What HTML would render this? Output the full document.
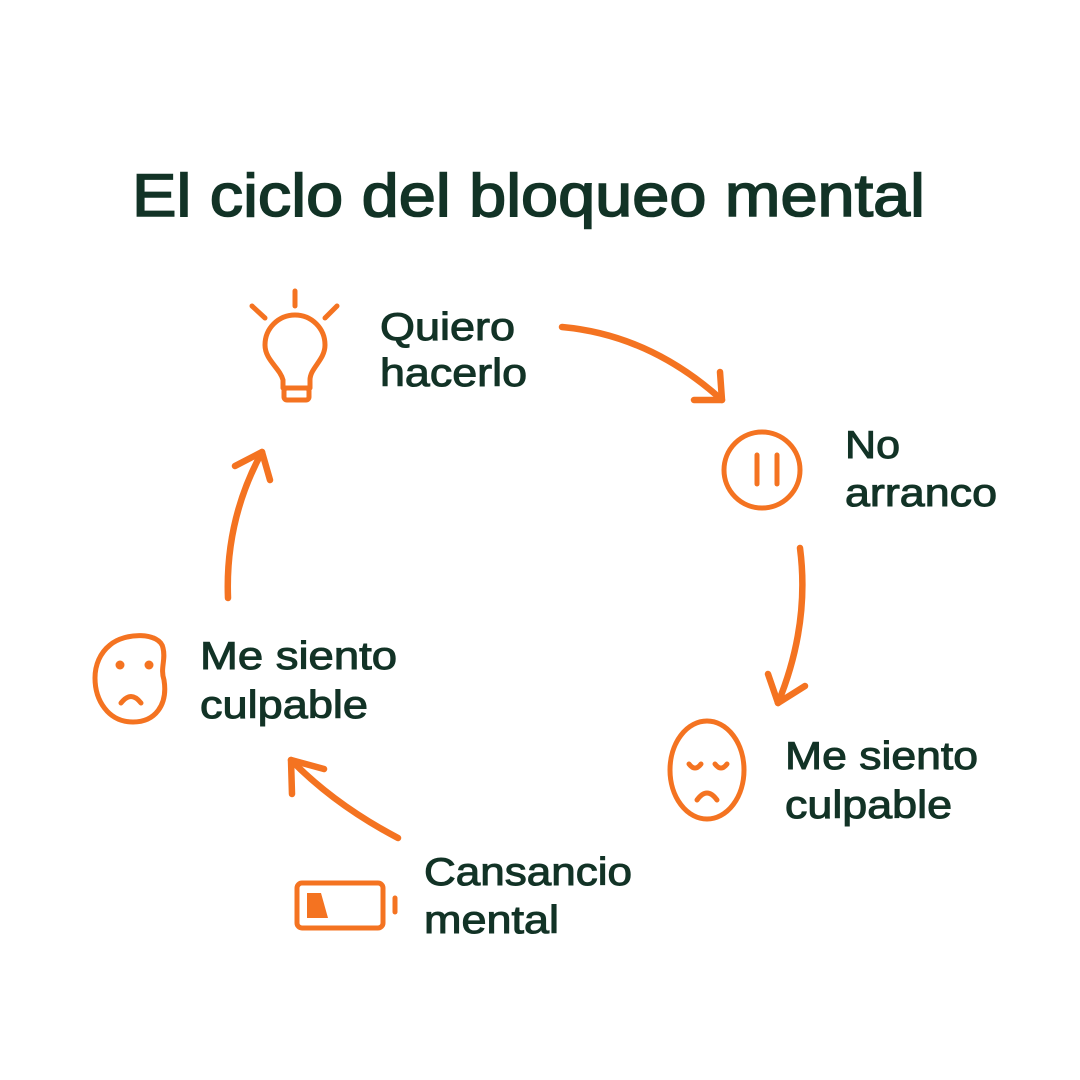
<!DOCTYPE html>
<html><head><meta charset="utf-8"><style>
html,body{margin:0;padding:0;background:#fff;width:1080px;height:1080px;overflow:hidden}
svg{display:block}
text{font-family:"Liberation Sans",sans-serif;fill:#123326;stroke:#123326}
</style></head><body>
<svg width="1080" height="1080" viewBox="0 0 1080 1080" xmlns="http://www.w3.org/2000/svg">
<text x="132" y="216" font-size="60" stroke-width="1.6" textLength="793" lengthAdjust="spacingAndGlyphs">El ciclo del bloqueo mental</text>
<g font-size="39" stroke-width="1">
<text x="380" y="340" textLength="135" lengthAdjust="spacingAndGlyphs">Quiero</text>
<text x="380" y="386" textLength="147" lengthAdjust="spacingAndGlyphs">hacerlo</text>
<text x="845" y="458" textLength="55" lengthAdjust="spacingAndGlyphs">No</text>
<text x="845" y="506" textLength="152" lengthAdjust="spacingAndGlyphs">arranco</text>
<text x="200" y="669" textLength="197" lengthAdjust="spacingAndGlyphs">Me siento</text>
<text x="200" y="718" textLength="168" lengthAdjust="spacingAndGlyphs">culpable</text>
<text x="785" y="769" textLength="193" lengthAdjust="spacingAndGlyphs">Me siento</text>
<text x="785" y="818" textLength="167" lengthAdjust="spacingAndGlyphs">culpable</text>
<text x="424" y="885" textLength="208" lengthAdjust="spacingAndGlyphs">Cansancio</text>
<text x="424" y="933" textLength="135" lengthAdjust="spacingAndGlyphs">mental</text>
</g>
<g fill="none" stroke="#f47321" stroke-width="5" stroke-linecap="round" stroke-linejoin="round">
<!-- bulb -->
<line x1="252" y1="306" x2="265" y2="318"/>
<line x1="295" y1="291" x2="295" y2="306"/>
<line x1="325" y1="318" x2="337" y2="306"/>
<path d="M283,388 L283,380 C280,368 265,360 265,345 A30,30 0 1 1 325,345 C325,360 310,368 310,380 L310,388 Z"/>
<rect x="284" y="388" width="25" height="12" rx="3"/>
<!-- pause -->
<circle cx="762" cy="470" r="38"/>
<line x1="757" y1="455" x2="757" y2="484"/>
<line x1="777" y1="455" x2="777" y2="484"/>
</g>
<g fill="none" stroke="#f47321" stroke-width="6.5" stroke-linecap="round" stroke-linejoin="round">
<path d="M562,327 Q650,335 722,400"/>
<path d="M720,372 L722,400 L694,400"/>
<path d="M800,548 Q810,625 778,703"/>
<path d="M768,674 L778,703 L805,686"/>
<path d="M398,838 Q335,805 291,760"/>
<path d="M292,794 L291,760 L324,769"/>
<path d="M228,598 Q225,520 262,452"/>
<path d="M235,466 L262,452 L270,480"/>
</g>
<g fill="none" stroke="#f47321" stroke-width="5" stroke-linecap="round" stroke-linejoin="round">
<!-- right face -->
<ellipse cx="707" cy="770" rx="37" ry="49"/>
<path d="M689,764 Q695,772 701,764"/>
<path d="M715,764 Q721,772 727,764"/>
<path d="M697,800 Q707,786 717,800"/>
<!-- left face -->
<path d="M110,645 C125,632 160,632 163,648 C166,660 160,668 164,680 C168,705 155,722 133,722 C108,722 95,700 95,678 C95,665 100,653 110,645 Z"/>
<path d="M121,703 Q131,690 141,703"/>
<!-- battery -->
<rect x="297" y="883" width="86" height="45" rx="5"/>
<line x1="395" y1="898" x2="395" y2="912"/>
</g>
<g fill="#f47321">
<circle cx="120" cy="665" r="4.5"/>
<circle cx="149" cy="665" r="4.5"/>
<path d="M307,893 L321,893 L328,918 L307,918 Z"/>
</g>
</svg>
</body></html>
